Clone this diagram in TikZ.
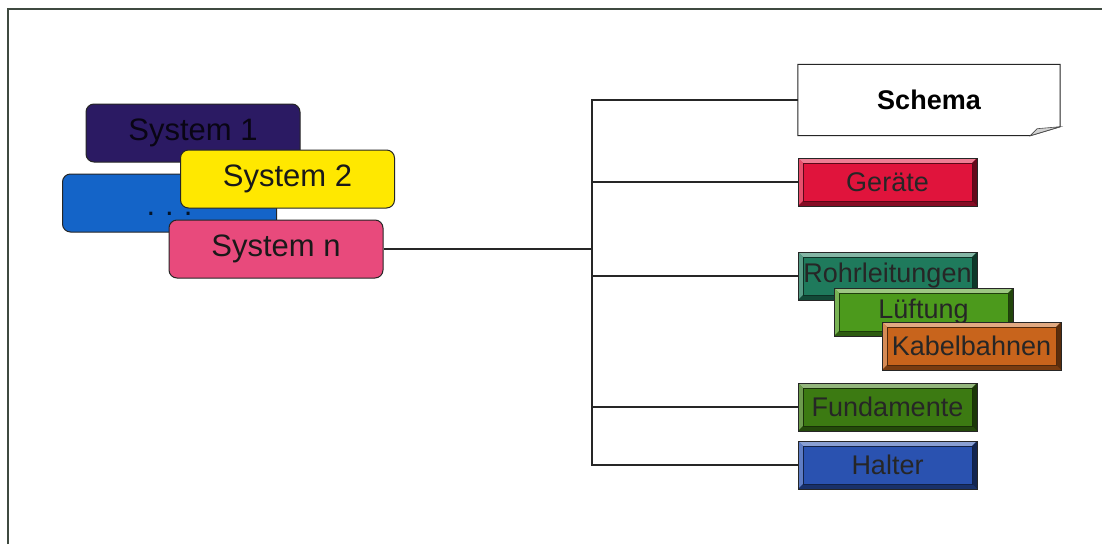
\documentclass[tikz,border=0pt]{standalone}
\usepackage{fontspec}
\setmainfont{Liberation Sans}
\definecolor{sysA}{HTML}{2B1A63}
\definecolor{sysB}{HTML}{FFE800}
\definecolor{sysDots}{HTML}{1464C8}
\definecolor{sysN}{HTML}{E84A7C}
\definecolor{cGeraete}{HTML}{E0143C}
\definecolor{cRohr}{HTML}{1F7A5C}
\definecolor{cLuft}{HTML}{4C9A1C}
\definecolor{cKabel}{HTML}{C8641C}
\definecolor{cFund}{HTML}{3C7A12}
\definecolor{cHalter}{HTML}{2A52B0}
\definecolor{frameline}{HTML}{3F4A40}
\begin{document}
\begin{tikzpicture}[x=1pt,y=-1pt,
  sysbox/.style={draw=black!85, line width=1pt, rounded corners=8pt, fill=#1,
    minimum width=214pt, minimum height=58pt, inner sep=0pt,
    font=\fontsize{31}{34}\selectfont, text=black!90},
  bevelbox/.style={draw=black!85, line width=0.8pt, fill=#1,
    minimum width=179pt, minimum height=48pt, inner sep=0pt,
    font=\fontsize{27}{30}\selectfont, text=black!85,
    path picture={
      \coordinate (bnw) at (path picture bounding box.north west);
      \coordinate (bse) at (path picture bounding box.south east);
      \coordinate (bne) at (bnw -| bse);
      \coordinate (bsw) at (bnw |- bse);
      \fill[#1!55!white] (bnw) -- (bne) -- ([shift={(-5pt,-5pt)}]bne) -- ([shift={(5pt,-5pt)}]bnw) -- cycle;
      \fill[#1!75!white] (bnw) -- ([shift={(5pt,-5pt)}]bnw) -- ([shift={(5pt,5pt)}]bsw) -- (bsw) -- cycle;
      \fill[#1!60!black] (bsw) -- ([shift={(5pt,5pt)}]bsw) -- ([shift={(-5pt,5pt)}]bse) -- (bse) -- cycle;
      \fill[#1!45!black] (bse) -- ([shift={(-5pt,5pt)}]bse) -- ([shift={(-5pt,-5pt)}]bne) -- (bne) -- cycle;
      \draw[#1!40!black, line width=0.7pt] ([shift={(5pt,-5pt)}]bnw) rectangle ([shift={(-5pt,5pt)}]bse);
    }},
  link/.style={draw=black!85, line width=1.1pt}
]
\useasboundingbox (0,0) rectangle (1102,544);
\fill[white] (0,0) rectangle (1102,544);
% outer frame (top and left edges)
\draw[frameline, line width=1.6pt] (8,544) -- (8,9) -- (1102,9);

% stacked system cards
\node[sysbox=sysA, text=black!80!sysA] (sys1) at (193,133) {System 1};
\node[sysbox=sysDots, text height=0pt, text depth=0pt, text=black!80!sysDots]
  (sysdots) at (169.5,203) {\raisebox{-12pt}{.\hspace{10pt}.\hspace{10pt}.}};
\node[sysbox=sysB] (sys2) at (287.5,179) {System 2};
\node[sysbox=sysN] (sysn) at (276,249) {System n};

% schema sheet with folded corner
\node[minimum width=262pt, minimum height=71pt, inner sep=0pt,
      font=\bfseries\fontsize{27}{30}\selectfont] (schema) at (929,100) {Schema};
\draw[black!85, line width=1pt] (schema.north west) -- (schema.north east)
  -- ([yshift=9pt]schema.south east) -- ([xshift=-30pt]schema.south east)
  -- (schema.south west) -- cycle;
\filldraw[fill=gray!35, draw=black!70, line width=0.6pt] ([xshift=-30pt]schema.south east)
  -- ([xshift=-23pt,yshift=7pt]schema.south east) -- ([yshift=9pt]schema.south east) -- cycle;

% component boxes
\node[bevelbox=cGeraete] (geraete) at (887.5,182) {Geräte};
\node[bevelbox=cRohr] (rohr) at (887.5,276) {Rohrleitungen};
\node[bevelbox=cLuft] (luft) at (923.5,312) {Lüftung};
\node[bevelbox=cKabel] (kabel) at (971.5,346) {Kabelbahnen};
\node[bevelbox=cFund] (fund) at (887.5,407) {Fundamente};
\node[bevelbox=cHalter] (halter) at (887.5,465) {Halter};

% tree connectors
\coordinate (hub) at (592,249);
\draw[link] (sysn.east) -- (hub);
\foreach \t in {schema,geraete,rohr,fund,halter}
  \draw[link] (hub) |- (\t.west);
\end{tikzpicture}
\end{document}
